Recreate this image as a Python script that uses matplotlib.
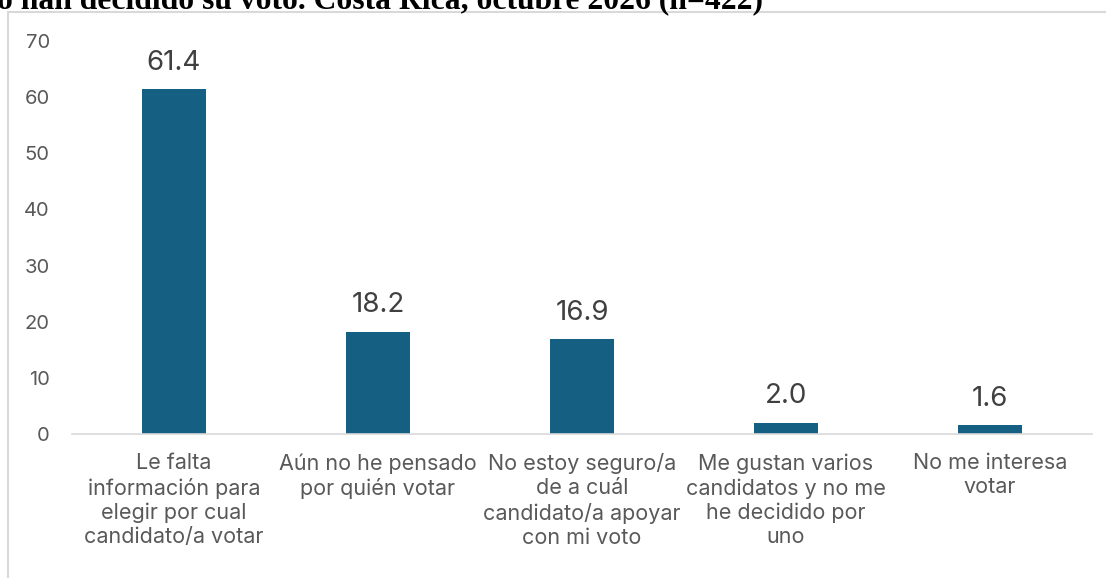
import matplotlib.pyplot as plt
from matplotlib.patches import Rectangle

# Datos del gráfico
categorias = [
    "Le falta\ninformación para\nelegir por cual\ncandidato/a votar",
    "Aún no he pensado\npor quién votar",
    "No estoy seguro/a\nde a cuál\ncandidato/a apoyar\ncon mi voto",
    "Me gustan varios\ncandidatos y no me\nhe decidido por\nuno",
    "No me interesa\nvotar",
]
porcentajes = [61.4, 18.2, 16.9, 2.0, 1.6]
ticks_y = [0, 10, 20, 30, 40, 50, 60, 70]
titulo = "o han decidido su voto. Costa Rica, octubre 2026 (n=422)"

color_barra = "#156082"
color_texto = "#595959"

plt.rcParams['font.family'] = ['Inter', 'DejaVu Sans']

fig = plt.figure(figsize=(11.06, 5.78), dpi=100)
W, H = 1106, 578

# marco del gráfico (se sale del lienzo por la derecha y abajo)
fig.patches.append(Rectangle((8 / W, -0.1), 1.2, 1 - 12 / H + 0.1,
                             transform=fig.transFigure, fill=False,
                             edgecolor="#d9d9d9", lw=1.5))

# título recortado arriba
fig.text(-3 / W, 1 - 8 / H, titulo, family='Liberation Serif', weight='bold',
         fontsize=22.8, ha='left', va='baseline', color='black')

ax = fig.add_axes([72 / W, 1 - 434 / H, (1092 - 72) / W, (434 - 41) / H])
x = range(len(porcentajes))
barras = ax.bar(x, porcentajes, width=0.315, color=color_barra)

for xi, v in zip(x, porcentajes):
    ax.annotate(f"{v:.1f}", (xi, v), xytext=(0, 19), textcoords='offset points',
                ha='center', va='center', fontsize=20, color='#404040')

ax.set_xlim(-0.5, 4.5)
ax.set_ylim(0, 70)
ax.set_yticks(ticks_y)
ax.set_xticks(list(x))
ax.set_xticklabels(categorias, fontsize=15.5, color=color_texto, linespacing=1.25)
ax.tick_params(axis='y', length=0, pad=16, labelsize=14.5, labelcolor=color_texto)
ax.tick_params(axis='x', length=0, pad=14)
for lado in ['top', 'right', 'left']:
    ax.spines[lado].set_visible(False)
ax.spines['bottom'].set_color('#d9d9d9')
ax.spines['bottom'].set_linewidth(1.2)

fig.savefig('out.png', dpi=100)
